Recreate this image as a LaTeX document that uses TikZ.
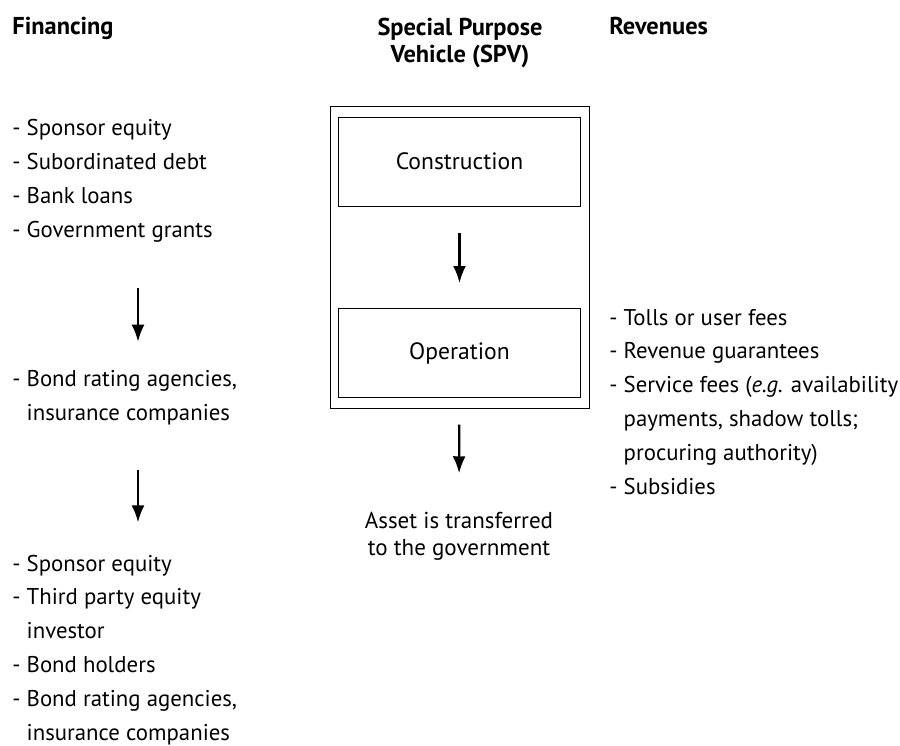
\documentclass[tikz,border=0pt]{standalone}
\usepackage{fontspec}
\setmainfont{PT Sans}
\usetikzlibrary{arrows.meta,fit}

\begin{document}
\begin{tikzpicture}[x=0.5pt, y=-0.5pt,
    head/.style={font=\bfseries\fontsize{12.2}{13.5}\selectfont, inner sep=0pt},
    list/.style={align=left, anchor=base west, inner sep=0pt, font=\fontsize{11.4}{16.9}\selectfont},
    phase/.style={shape=rectangle, draw=black, line width=0.5pt, minimum width=121pt, minimum height=44.5pt, font=\fontsize{11.8}{13.5}\selectfont},
    arr/.style={-{Latex[length=8.5pt,width=6.5pt]}, line width=1.1pt}]
    \useasboundingbox (0,0) rectangle (900,745);
    % column headings
    \node[head, anchor=base west] at (12,34) (fin) {Financing};
    \node[head, align=center, anchor=base] at (460,62) (spv) {Special Purpose\\Vehicle (SPV)};
    \node[head, anchor=base west] at (609,34) (rev) {Revenues};
    % financing column
    \node[list] at (12,237) (finA) {- Sponsor equity\\- Subordinated debt\\- Bank loans\\- Government grants};
    \node[list] at (12,420) (finB) {- Bond rating agencies,\\\phantom{- }insurance companies};
    \node[list] at (12,740) (finC) {- Sponsor equity\\- Third party equity\\\phantom{- }investor\\- Bond holders\\- Bond rating agencies,\\\phantom{- }insurance companies};
    \coordinate (col) at (138,0);
    \path [arr] (finA.south -| col) edge[shorten <=23pt, shorten >=14pt] (finB.north -| col);
    \path [arr] (finB.south -| col) edge[shorten <=22.5pt, shorten >=16pt] (finC.north -| col);
    % SPV column
    \node[phase] at (459.5,161.5) (construction) {Construction};
    \node[phase] at (459.5,353) (operation) {Operation};
    \node[draw=black, line width=0.5pt, fit=(construction)(operation), inner xsep=4pt, inner ysep=5pt] (box) {};
    \path [arr] (construction) edge[shorten <=13pt, shorten >=12.5pt] (operation);
    \node[align=center, anchor=base, inner sep=0pt, font=\fontsize{11.5}{13.5}\selectfont] at (459,555) (asset) {Asset is transferred\\to the government};
    \path [arr] (box) edge[shorten <=8pt, shorten >=19pt] (asset);
    % revenues column
    \node[list] at (609,494) (revs) {- Tolls or user fees\\- Revenue guarantees\\- Service fees (\textit{e.g.} availability\\\phantom{- }payments, shadow tolls;\\\phantom{- }procuring authority)\\- Subsidies};
\end{tikzpicture}
\end{document}
